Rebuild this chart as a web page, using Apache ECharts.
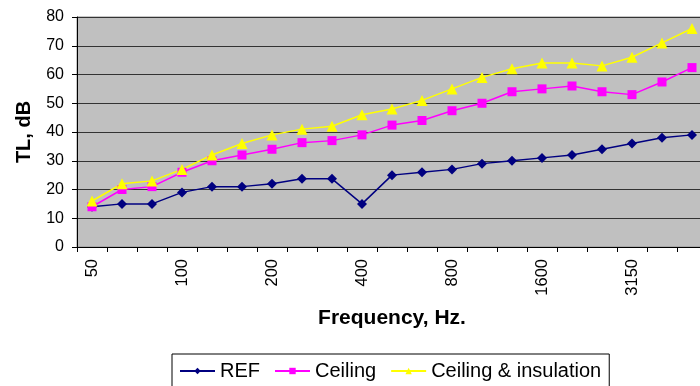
<!DOCTYPE html>
<html><head><meta charset="utf-8">
<script src="https://cdn.jsdelivr.net/npm/echarts@6/dist/echarts.min.js"></script>
<style>html,body{margin:0;padding:0;background:#fff;overflow:hidden}#c{width:700px;height:386px}</style>
</head><body><div id="c"></div>
<script>
const categories = ['50','63','80','100','125','160','200','250','315','400','500','630','800','1000','1250','1600','2000','2500','3150','4000','5000'];
const refValues = [14,15,15,19,21,21,22,23.7,23.7,15,25,26,27,29,30,31,32,34,36,38,39];
const ceilingValues = [14,20,21,26,30,32,34,36.3,37,39,42.4,44,47.4,50,54,55,56,54,53,57.4,62.4];
const insulationValues = [16,22,23,27,32,36,39,41,42,46,48,51,55,59,62,64,64,63,66,71,76];
const yTicks = {min:0, max:80, interval:10};

const chart = echarts.init(document.getElementById('c'), null, {renderer:'canvas'});
const font = 'Liberation Sans, Arial, sans-serif';
chart.setOption({
  animation:false,
  textStyle:{fontFamily:font},
  grid:{left:77, top:17, width:630, bottom:139, outerBoundsMode:'none', containLabel:false,
    show:true, backgroundColor:'#c0c0c0', borderColor:'#909090', borderWidth:1},
  legend:{
    left:172, top:354,
    padding:[7,8,10,7],
    borderColor:'#000', borderWidth:1,
    itemWidth:35, itemHeight:8, itemGap:14,
    textStyle:{fontSize:20, color:'#000', fontFamily:font},
    data:['REF','Ceiling','Ceiling & insulation']
  },
  xAxis:{
    type:'category', data:categories, boundaryGap:true,
    name:'Frequency, Hz.', nameLocation:'middle', nameGap:61,
    nameTextStyle:{fontSize:21, fontWeight:'bold', color:'#000', fontFamily:font},
    axisLine:{lineStyle:{color:'#000', width:1}},
    axisTick:{show:true, interval:0, length:5, lineStyle:{color:'#000'}},
    axisLabel:{interval:2, rotate:90, margin:12, fontSize:16.5, color:'#000', fontFamily:font},
    splitLine:{show:false}
  },
  yAxis:{
    type:'value', min:yTicks.min, max:yTicks.max, interval:yTicks.interval,
    name:'TL, dB', nameLocation:'middle', nameGap:43,
    nameTextStyle:{fontSize:20, fontWeight:'bold', color:'#000', fontFamily:font},
    axisLine:{show:true, lineStyle:{color:'#000', width:1}},
    axisTick:{show:true, length:5, lineStyle:{color:'#000'}},
    axisLabel:{margin:13, fontSize:16, color:'#000', fontFamily:font},
    splitLine:{show:true, lineStyle:{color:'#333', width:1}}
  },
  series:[
    {name:'REF', type:'line', data:refValues, symbol:'diamond', symbolSize:10,
      lineStyle:{color:'#000080', width:1.5}, itemStyle:{color:'#000080'}},
    {name:'Ceiling', type:'line', data:ceilingValues, symbol:'rect', symbolSize:9,
      lineStyle:{color:'#ff00ff', width:1.5}, itemStyle:{color:'#ff00ff'}},
    {name:'Ceiling & insulation', type:'line', data:insulationValues, symbol:'triangle', symbolSize:11,
      lineStyle:{color:'#ffff00', width:1.5}, itemStyle:{color:'#ffff00'}}
  ]
});
</script></body></html>
